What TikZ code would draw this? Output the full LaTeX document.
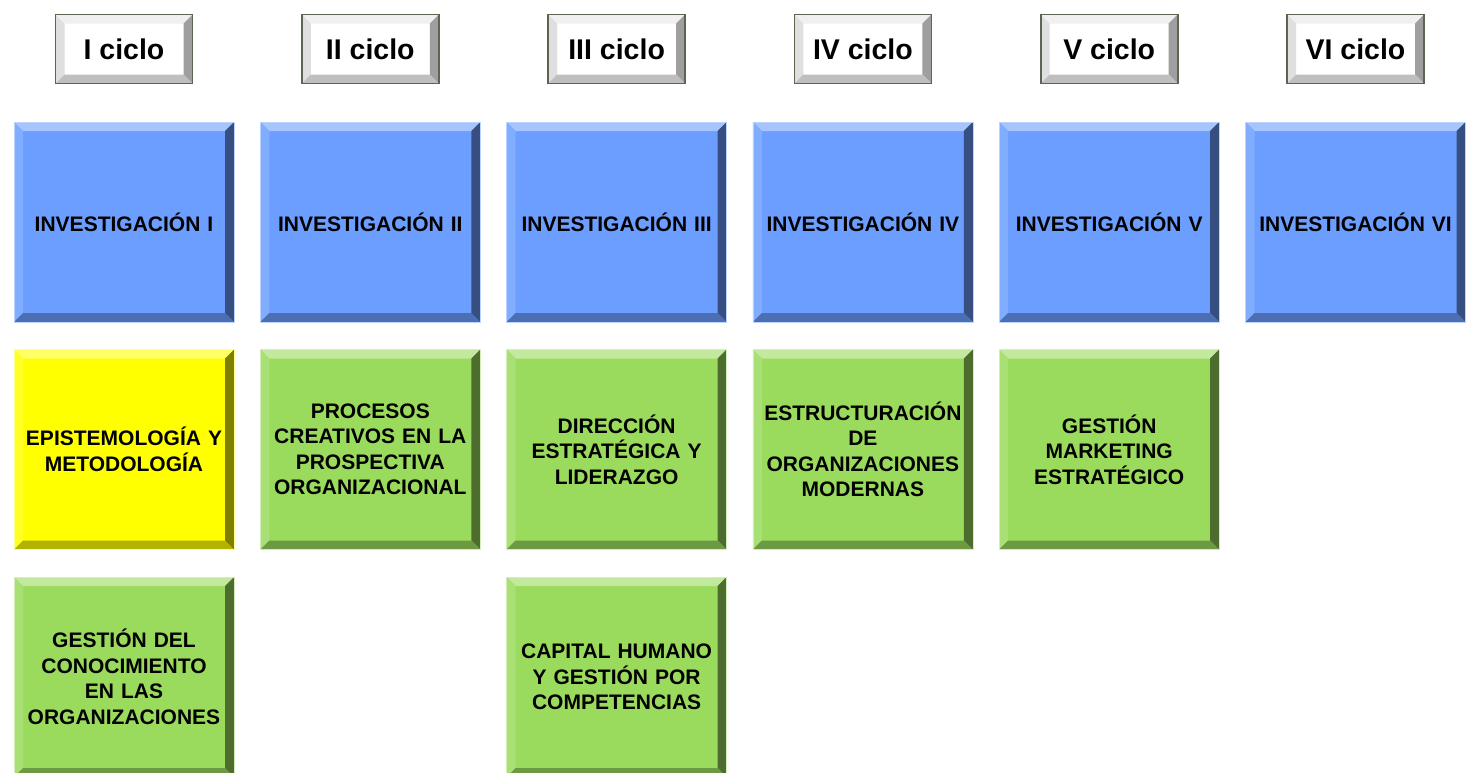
\documentclass[tikz,border=0pt]{standalone}
\usepackage{fontspec}
\setmainfont{Liberation Sans}
\usepackage{tikz}
\usetikzlibrary{positioning}
\definecolor{invblue}{HTML}{6B9EFF}
\definecolor{curgreen}{HTML}{9ADB5E}
\definecolor{curyellow}{HTML}{FFFF00}
\definecolor{cicloedge}{HTML}{5B6650}

\begin{document}
\begin{tikzpicture}[x=1pt, y=-1pt]
      \tikzset{bevel/.style n args={4}{path picture={
          \path (path picture bounding box.north west) coordinate (bnw)
                (path picture bounding box.north east) coordinate (bne)
                (path picture bounding box.south west) coordinate (bsw)
                (path picture bounding box.south east) coordinate (bse);
          \fill[#1] (bnw) -- (bne) -- ([xshift=-9pt, yshift=-9pt]bne) -- ([xshift=9pt, yshift=-9pt]bnw) -- cycle;
          \fill[#2] (bnw) -- ([xshift=9pt, yshift=-9pt]bnw) -- ([xshift=9pt, yshift=9pt]bsw) -- (bsw) -- cycle;
          \fill[#3] (bne) -- ([xshift=-9pt, yshift=-9pt]bne) -- ([xshift=-9pt, yshift=9pt]bse) -- (bse) -- cycle;
          \fill[#4] (bsw) -- ([xshift=9pt, yshift=9pt]bsw) -- ([xshift=-9pt, yshift=9pt]bse) -- (bse) -- cycle;
        }}}
      \tikzstyle{box} = [rectangle, minimum width=220pt, minimum height=200pt, inner sep=0pt, text width=210pt, align=center, font=\fontsize{21}{25.5}\selectfont\bfseries]
      \tikzstyle{inv} = [box, fill=invblue, draw=invblue!45!white, line width=0.6pt, bevel={invblue!60!white}{invblue!85!white}{invblue!50!black}{invblue!70!black}]
      \tikzstyle{course} = [box, fill=curgreen, draw=curgreen!45!white, line width=0.6pt, bevel={curgreen!60!white}{curgreen!85!white}{curgreen!50!black}{curgreen!70!black}]
      \tikzstyle{basic} = [box, fill=curyellow, draw=curyellow!45!white, line width=0.6pt, bevel={curyellow!60!white}{curyellow!85!white}{curyellow!50!black}{curyellow!70!black}]
      \tikzstyle{ciclo} = [rectangle, minimum width=137pt, minimum height=69pt, inner sep=0pt, fill=white, draw=cicloedge, line width=1.6pt, font=\fontsize{28.5}{30}\selectfont\bfseries, bevel={gray!12}{gray!25}{gray!75}{gray!50}]

      \useasboundingbox (0,0) rectangle (1466,772);

      % ciclos e investigacion
      \foreach \i/\name in {1/I, 2/II, 3/III, 4/IV, 5/V, 6/VI}
      {
        \node[ciclo] (C-\i) at (124+246.3*\i-246.3, 49) {\name\ ciclo};
        \node[inv] (INV-\i) at (124+246.3*\i-246.3, 222) {INVESTIGACIÓN \name};
      }

      % segunda fila
      \node[basic] (EPI) at (124, 449.5) {EPISTEMOLOGÍA Y\\METODOLOGÍA};
      \node[course] (PRO) at (370.3, 449.5) {PROCESOS\\CREATIVOS EN LA\\PROSPECTIVA\\ORGANIZACIONAL};
      \node[course] (DIR) at (616.6, 449.5) {DIRECCIÓN\\ESTRATÉGICA Y\\LIDERAZGO};
      \node[course] (EST) at (862.9, 449.5) {ESTRUCTURACIÓN\\DE\\ORGANIZACIONES\\MODERNAS};
      \node[course] (MKT) at (1109.2, 449.5) {GESTIÓN\\MARKETING\\ESTRATÉGICO};

      % tercera fila
      \node[course] (GCO) at (124, 677) {GESTIÓN DEL\\CONOCIMIENTO\\EN LAS\\ORGANIZACIONES};
      \node[course] (CAP) at (616.6, 677) {CAPITAL HUMANO\\Y GESTIÓN POR\\COMPETENCIAS};
\end{tikzpicture}
\end{document}
